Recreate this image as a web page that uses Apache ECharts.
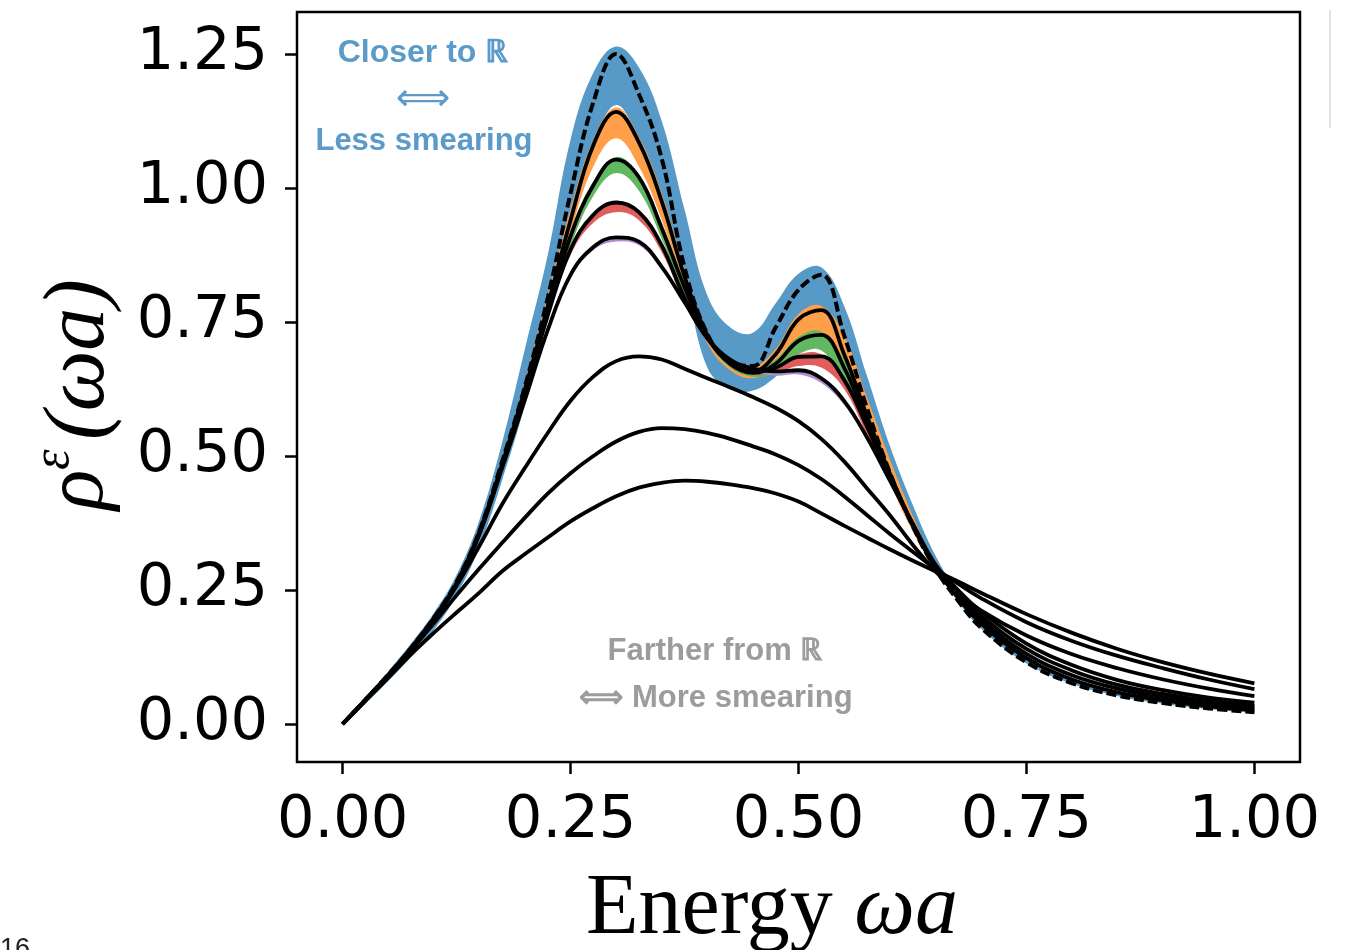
<!DOCTYPE html>
<html><head><meta charset="utf-8">
<script src="https://cdn.jsdelivr.net/npm/echarts@6/dist/echarts.min.js"></script>
<style>html,body{margin:0;padding:0;background:#fff}#c{width:1345px;height:950px}</style>
</head><body><div id="c"></div>
<script>
// ---- data ----
const xs = [0,0.025,0.05,0.075,0.1,0.125,0.15,0.175,0.2,0.225,0.25,0.275,0.3,0.325,0.35,0.375,0.4,0.425,0.45,0.475,0.5,0.525,0.55,0.575,0.6,0.625,0.65,0.675,0.7,0.75,0.8,0.85,0.9,0.95,1.0];
const xTicks = [0,0.25,0.5,0.75,1.0];
const yTicks = [0,0.25,0.5,0.75,1.0,1.25];

// narrow (less smeared) curves
const curveA = [0,0.045,0.092,0.142,0.198,0.265,0.36,0.49,0.63,0.795,0.99,1.16,1.25,1.175,1.055,0.852,0.728,0.675,0.668,0.74,0.81,0.838,0.725,0.59,0.47,0.37,0.29,0.23,0.18,0.115,0.076,0.053,0.039,0.029,0.022];
const curveB = [0,0.045,0.091,0.141,0.197,0.263,0.358,0.485,0.625,0.78,0.94,1.08,1.142,1.085,0.975,0.835,0.726,0.672,0.658,0.69,0.755,0.772,0.69,0.575,0.468,0.372,0.292,0.236,0.188,0.123,0.083,0.059,0.044,0.033,0.026];
const curveC = [0,0.045,0.091,0.141,0.196,0.262,0.357,0.482,0.62,0.77,0.91,1.005,1.053,1.02,0.925,0.815,0.724,0.672,0.655,0.672,0.715,0.726,0.665,0.565,0.465,0.373,0.293,0.24,0.195,0.131,0.091,0.066,0.05,0.038,0.03];
const curveD = [0,0.045,0.09,0.14,0.195,0.261,0.355,0.48,0.615,0.762,0.885,0.95,0.973,0.955,0.893,0.795,0.72,0.675,0.658,0.665,0.685,0.686,0.642,0.555,0.46,0.373,0.295,0.244,0.202,0.14,0.1,0.073,0.056,0.043,0.034];
const curveE = [0,0.045,0.09,0.14,0.194,0.26,0.354,0.478,0.605,0.735,0.838,0.89,0.908,0.9,0.853,0.787,0.72,0.68,0.663,0.658,0.66,0.645,0.603,0.535,0.455,0.375,0.298,0.25,0.21,0.15,0.11,0.082,0.063,0.049,0.04];
// broad (more smeared) curves
const curveF = [0,0.045,0.091,0.14,0.195,0.258,0.332,0.41,0.478,0.543,0.603,0.648,0.677,0.686,0.68,0.663,0.645,0.628,0.61,0.59,0.565,0.532,0.49,0.44,0.39,0.335,0.285,0.245,0.212,0.165,0.13,0.104,0.083,0.066,0.052];
const curveG = [0,0.044,0.089,0.137,0.188,0.24,0.29,0.338,0.385,0.43,0.468,0.5,0.527,0.545,0.552,0.55,0.543,0.532,0.518,0.503,0.483,0.457,0.425,0.39,0.355,0.322,0.29,0.262,0.235,0.19,0.155,0.127,0.104,0.083,0.065];
const curveH = [0,0.043,0.086,0.13,0.17,0.208,0.245,0.285,0.317,0.348,0.378,0.403,0.425,0.441,0.45,0.454,0.452,0.447,0.44,0.43,0.415,0.393,0.37,0.348,0.326,0.305,0.285,0.266,0.245,0.205,0.17,0.14,0.115,0.094,0.076];

// uncertainty bands
const bandBlueHi = [0,0.05,0.098,0.15,0.207,0.278,0.38,0.525,0.70,0.875,1.09,1.215,1.264,1.225,1.125,0.96,0.80,0.74,0.73,0.785,0.84,0.852,0.78,0.65,0.52,0.41,0.315,0.245,0.19,0.12,0.08,0.056,0.041,0.031,0.023];
const bandBlueLo = [0,0.038,0.08,0.125,0.175,0.24,0.33,0.455,0.595,0.76,0.94,1.08,1.155,1.088,0.975,0.835,0.665,0.625,0.622,0.648,0.69,0.74,0.69,0.575,0.468,0.37,0.29,0.228,0.178,0.113,0.075,0.052,0.038,0.028,0.021];
const bandOrangeHi = [0,0.045,0.091,0.141,0.197,0.263,0.358,0.485,0.64,0.80,0.96,1.09,1.15,1.095,0.99,0.85,0.735,0.678,0.665,0.70,0.765,0.78,0.725,0.61,0.495,0.39,0.298,0.238,0.19,0.124,0.084,0.06,0.045,0.034,0.026];
const bandOrangeLo = [0,0.045,0.091,0.141,0.197,0.263,0.358,0.485,0.61,0.76,0.915,1.04,1.093,1.04,0.94,0.815,0.71,0.66,0.645,0.665,0.70,0.715,0.655,0.55,0.45,0.36,0.288,0.234,0.187,0.122,0.082,0.058,0.043,0.032,0.025];
const bandGreenHi = [0,0.045,0.091,0.141,0.196,0.262,0.357,0.482,0.63,0.78,0.92,1.012,1.058,1.025,0.935,0.825,0.73,0.676,0.66,0.68,0.722,0.732,0.68,0.585,0.478,0.38,0.295,0.24,0.195,0.131,0.091,0.066,0.05,0.038,0.03];
const bandGreenLo = [0,0.045,0.091,0.141,0.196,0.262,0.357,0.482,0.61,0.755,0.89,0.985,1.028,0.995,0.905,0.80,0.715,0.665,0.648,0.655,0.69,0.697,0.638,0.548,0.455,0.368,0.29,0.238,0.194,0.13,0.09,0.065,0.049,0.037,0.029];
const bandRedHi = [0,0.045,0.09,0.14,0.195,0.261,0.355,0.48,0.615,0.765,0.89,0.953,0.976,0.958,0.897,0.80,0.723,0.677,0.66,0.668,0.69,0.69,0.648,0.56,0.463,0.374,0.296,0.244,0.202,0.14,0.1,0.073,0.056,0.043,0.034];
const bandRedLo = [0,0.045,0.09,0.14,0.195,0.261,0.355,0.48,0.612,0.757,0.875,0.935,0.955,0.94,0.88,0.785,0.713,0.67,0.652,0.655,0.668,0.665,0.625,0.54,0.452,0.37,0.294,0.243,0.201,0.139,0.099,0.072,0.055,0.042,0.033];
const bandPurpleHi = [0,0.045,0.09,0.14,0.194,0.26,0.354,0.478,0.605,0.736,0.84,0.891,0.909,0.901,0.854,0.788,0.721,0.68,0.663,0.658,0.66,0.645,0.603,0.535,0.455,0.375,0.298,0.25,0.21,0.15,0.11,0.082,0.063,0.049,0.04];
const bandPurpleLo = [0,0.045,0.09,0.14,0.194,0.26,0.354,0.478,0.602,0.73,0.832,0.884,0.9,0.893,0.847,0.782,0.716,0.676,0.657,0.65,0.652,0.636,0.595,0.53,0.452,0.373,0.297,0.249,0.209,0.149,0.109,0.081,0.062,0.048,0.039];

// ---- chart ----
const chart = echarts.init(document.getElementById('c'), null, {renderer:'canvas'});
const pts = arr => xs.map((x,i)=>[x,arr[i]]);

const bands = [
  {hi:bandBlueHi, lo:bandBlueLo, color:'#5799c7'},
  {hi:bandOrangeHi, lo:bandOrangeLo, color:'#ff9f4a'},
  {hi:bandGreenHi, lo:bandGreenLo, color:'#61b861'},
  {hi:bandRedHi, lo:bandRedLo, color:'#e05d5e'},
  {hi:bandPurpleHi, lo:bandPurpleLo, color:'#af8dce'}
];
const series = [];
bands.forEach(b=>{
  series.push({
    type:'custom', silent:true, clip:true,
    data:[[0,0]],
    renderItem:(params, api)=>{
      const top = xs.map((x,i)=>api.coord([x,b.hi[i]]));
      const bot = xs.map((x,i)=>api.coord([x,b.lo[i]])).reverse();
      return {type:'polygon', shape:{points: top.concat(bot), smooth:0.4},
              style:{fill:b.color, stroke:null}};
    }
  });
});
const lineBase = {type:'line', symbol:'none', smooth:0.4, silent:true};
[curveH, curveG, curveF, curveE, curveD, curveC, curveB].forEach(c=>{
  series.push(Object.assign({}, lineBase, {data:pts(c), lineStyle:{color:'#000', width:3.8}}));
});
series.push(Object.assign({}, lineBase, {data:pts(curveA), lineStyle:{color:'#000', width:4, type:[10,4]}}));

const tickFont = {fontSize:59, fontFamily:'"DejaVu Sans", sans-serif', color:'#000'};
const blue = '#5b9bc9', gray = '#9c9c9c';
const ctr = {textAlign:'center', textVerticalAlign:'middle', align:'center', verticalAlign:'middle'};
const annFont = 'bold 31px "Liberation Sans", Arial, sans-serif';
chart.setOption({
  animation:false,
  backgroundColor:'#fff',
  grid:{left:297, top:12, width:1003, height:750, show:true, borderColor:'#000', borderWidth:2.5, backgroundColor:'rgba(0,0,0,0)'},
  xAxis:{type:'value', min:-0.05, max:1.05,
    axisLine:{show:false, onZero:false}, splitLine:{show:false},
    axisTick:{show:true, customValues:xTicks, length:12, lineStyle:{color:'#000', width:2.5}},
    axisLabel:Object.assign({customValues:xTicks, margin:30, formatter:v=>v.toFixed(2)}, tickFont)},
  yAxis:{type:'value', min:-0.0709, max:1.3284,
    axisLine:{show:false, onZero:false}, splitLine:{show:false},
    axisTick:{show:true, customValues:yTicks, length:12, lineStyle:{color:'#000', width:2.5}},
    axisLabel:Object.assign({customValues:yTicks, margin:29, formatter:v=>v.toFixed(2)}, tickFont)},
  series:series,
  graphic:[
    {type:'text', x:423, y:53, style:Object.assign({text:'Closer to ℝ', font:'bold 32px "Liberation Sans", Arial, sans-serif', fill:blue}, ctr)},
    {type:'text', x:423, y:100, style:Object.assign({text:'⟺', font:'38px "DejaVu Sans", sans-serif', fill:blue}, ctr)},
    {type:'text', x:424, y:141, style:Object.assign({text:'Less smearing', font:annFont, fill:blue}, ctr)},
    {type:'text', x:715, y:651, style:Object.assign({text:'Farther from ℝ', font:annFont, fill:gray}, ctr)},
    {type:'text', x:716, y:698, style:Object.assign({text:'⟺ More smearing', font:annFont, fill:gray}, ctr)},
    {type:'text', x:772, y:910, style:Object.assign({text:'{n|Energy }{i|ωa}', rich:{n:{font:'86px "Liberation Serif", serif', fill:'#000'}, i:{font:'italic 86px "Liberation Serif", serif', fill:'#000'}}}, ctr)},
    {type:'group', x:80, y:392, rotation:Math.PI/2, children:[
      {type:'text', x:-118, y:0, style:{text:'ρ', font:'italic 84px "Liberation Serif", serif', fill:'#000', textAlign:'left', textVerticalAlign:'middle', align:'left', verticalAlign:'middle'}},
      {type:'text', x:-78, y:-26, style:{text:'ε', font:'italic 52px "Liberation Serif", serif', fill:'#000', textAlign:'left', textVerticalAlign:'middle', align:'left', verticalAlign:'middle'}},
      {type:'text', x:-48, y:0, style:{text:'(ωa)', font:'italic 86px "Liberation Serif", serif', fill:'#000', textAlign:'left', textVerticalAlign:'middle', align:'left', verticalAlign:'middle'}}
    ]},
    {type:'text', x:0, y:936, style:{text:'16', font:'27px "Liberation Sans", Arial, sans-serif', fill:'#222', textAlign:'left', textVerticalAlign:'top', align:'left', verticalAlign:'top'}},
    {type:'line', shape:{x1:1330, y1:10, x2:1330, y2:128}, style:{stroke:'#e2e2e2', lineWidth:2}}
  ]
});
</script></body></html>
